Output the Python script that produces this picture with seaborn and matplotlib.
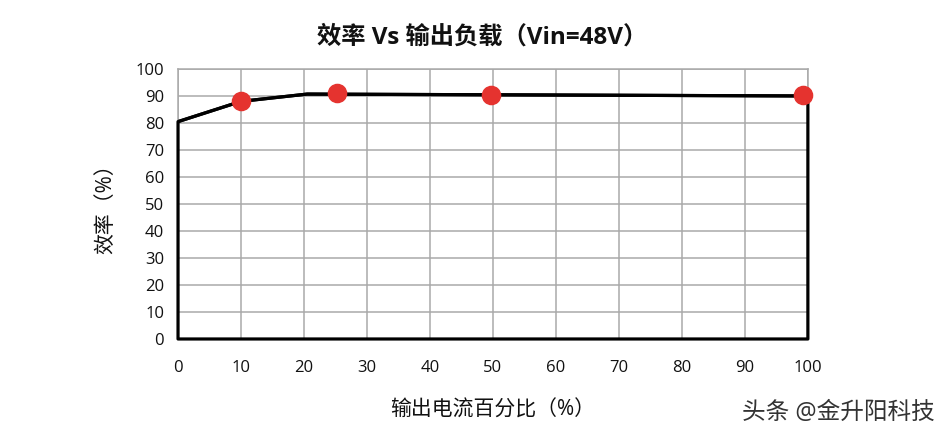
import matplotlib
matplotlib.use("Agg")
import matplotlib.pyplot as plt
import seaborn as sns
import pandas as pd

# data
curve_x = [0, 10, 20.5, 100]
curve_y = [80.5, 88.0, 90.7, 90.0]
point_x = [10, 25.3, 49.7, 99.3]
point_y = [88.0, 91.1, 90.5, 90.5]
x_ticks = [0, 10, 20, 30, 40, 50, 60, 70, 80, 90, 100]
y_ticks = [0, 10, 20, 30, 40, 50, 60, 70, 80, 90, 100]
title = "效率 Vs 输出负载（Vin=48V）"
xlabel = "输出电流百分比（%）"
ylabel = "效率（%）"
watermark = "头条 @金升阳科技"

sns.set_theme(style="white")
plt.rcParams['font.family'] = ['Open Sans', 'Noto Sans CJK SC', 'DejaVu Sans']

fig = plt.figure(figsize=(9.5, 4.43), dpi=100)
ax = fig.add_axes([0.1874, 0.2348, 0.663, 0.6095])

curve = pd.DataFrame({"x": curve_x, "y": curve_y})
points = pd.DataFrame({"x": point_x, "y": point_y})

ax.set_xlim(0, 100)
ax.set_ylim(0, 100)
ax.set_xticks(x_ticks)
ax.set_yticks(y_ticks)
ax.grid(True, color="#a9a9a9", linewidth=1.1)
ax.set_axisbelow(True)
for s in ax.spines.values():
    s.set_color("#a9a9a9")
    s.set_linewidth(1.1)

poly = ax.fill_between(curve["x"], curve["y"], 0, facecolor="none",
                       edgecolor="black", linewidth=2.3, zorder=3)
poly.set_clip_on(False)
sns.lineplot(data=curve, x="x", y="y", ax=ax, color="black", linewidth=2.3,
             sort=False, zorder=3)
sns.scatterplot(data=points, x="x", y="y", ax=ax, color="#e5332f",
                edgecolor="#e5332f", s=170, zorder=4, clip_on=False)

ax.tick_params(axis="both", length=0, labelsize=12, colors="#111111")
ax.tick_params(axis="x", pad=15)
ax.tick_params(axis="y", pad=10)
ax.set_xlabel(xlabel, fontsize=15, labelpad=17, color="#111111")
ax.set_ylabel(ylabel, fontsize=15, labelpad=14, color="#111111")

fig.text(0.507, 0.916, title, ha="center", va="center", fontsize=17.5,
         fontweight="bold", color="#111111")
fig.text(0.984, 0.068, watermark, ha="right", va="center", fontsize=17,
         color="#333333")

fig.savefig("out.png", dpi=100)
